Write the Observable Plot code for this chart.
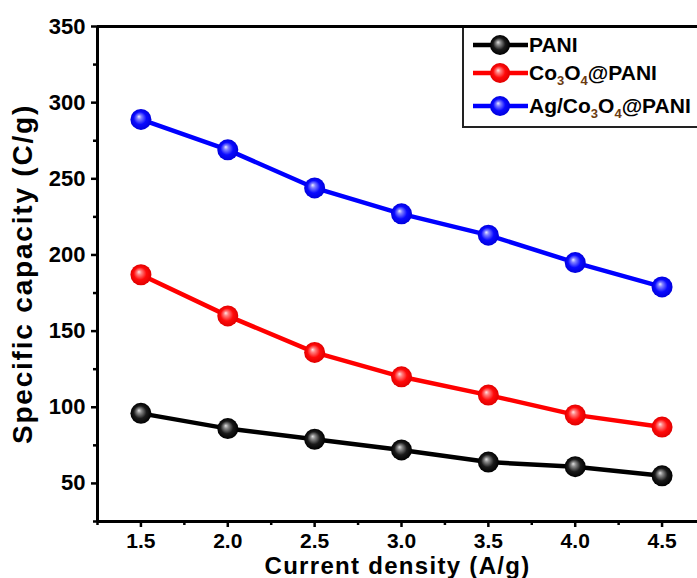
<!DOCTYPE html>
<html>
<head>
<meta charset="utf-8">
<script src="https://cdn.jsdelivr.net/npm/d3@7"></script>
<script src="https://cdn.jsdelivr.net/npm/@observablehq/plot@0.6"></script>
<style>
  body { margin: 0; background: #fff; }
  #chart { position: relative; width: 697px; height: 578px; overflow: hidden;
           font-family: "Liberation Sans", Arial, sans-serif; }
  #chart svg g[aria-label="y-axis tick label"],
  #chart svg g[aria-label="y-axis tick label"] text { font-size: 22px; font-weight: bold; }
  #chart svg g[aria-label="x-axis tick label"],
  #chart svg g[aria-label="x-axis tick label"] text { font-size: 21px; font-weight: bold; }
  #chart svg .axis-title,
  #chart svg .axis-title text { font-weight: bold; }
  #legend { position: absolute; left: 462px; top: 28px; width: 280px; height: 98px;
            border: 2px solid #222; border-top: none; background: #fff; }
  .row { position: absolute; left: 8px; height: 26px; display: flex; align-items: center;
         font-size: 21px; font-weight: bold; color: #000; white-space: nowrap; }
  .row svg { display: block; margin-right: 0; }
  .row sub { font-size: 13px; vertical-align: -5px; line-height: 0; color: #6b3a10; }
</style>
</head>
<body>
<div id="chart"></div>
<script>
// Measured specific capacity at each current density
const currentDensity = [1.5, 2.0, 2.5, 3.0, 3.5, 4.0, 4.5];
const pani = [96, 86, 79, 72, 64, 61, 55];
const co3o4Pani = [187, 160, 136, 120, 108, 95, 87];
const agCo3o4Pani = [289, 269, 244, 227, 213, 195, 179];

const seriesNames = ["PANI", "Co3O4@PANI", "Ag/Co3O4@PANI"];
const seriesLabels = ["PANI", "Co<sub>3</sub>O<sub>4</sub>@PANI", "Ag/Co<sub>3</sub>O<sub>4</sub>@PANI"];
const seriesColors = ["#000000", "#ff0000", "#0000ff"];
const seriesGradients = ["ballBlack", "ballRed", "ballBlue"];

const xTicks = [1.5, 2.0, 2.5, 3.0, 3.5, 4.0, 4.5];
const xMinorTicks = [1.25, 1.75, 2.25, 2.75, 3.25, 3.75, 4.25];
const yTicks = [50, 100, 150, 200, 250, 300, 350];
const yMinorTicks = [25, 75, 125, 175, 225, 275, 325];

const xTitle = "Current density (A/g)";
const yTitle = "Specific capacity (C/g)";

const seriesValues = [pani, co3o4Pani, agCo3o4Pani];
const rows = seriesNames.flatMap((name, i) =>
  currentDensity.map((x, j) => ({series: name, x, y: seriesValues[i][j]}))
);

// Shaded-ball gradients shared by the plot markers and the legend
const gradientDefs = `
  <radialGradient id="ballBlack" cx="50%" cy="50%" r="50%" fx="40%" fy="36%">
    <stop offset="0" stop-color="#e0e0e0"/><stop offset="0.22" stop-color="#8a8a8a"/>
    <stop offset="0.6" stop-color="#1a1a1a"/><stop offset="1" stop-color="#000"/>
  </radialGradient>
  <radialGradient id="ballRed" cx="50%" cy="50%" r="50%" fx="40%" fy="36%">
    <stop offset="0" stop-color="#ffe4e4"/><stop offset="0.22" stop-color="#ff8080"/>
    <stop offset="0.6" stop-color="#ff0a0a"/><stop offset="1" stop-color="#e00000"/>
  </radialGradient>
  <radialGradient id="ballBlue" cx="50%" cy="50%" r="50%" fx="40%" fy="36%">
    <stop offset="0" stop-color="#ececff"/><stop offset="0.22" stop-color="#8080ff"/>
    <stop offset="0.6" stop-color="#0a0aff"/><stop offset="1" stop-color="#0000dc"/>
  </radialGradient>`;

const marks = [
  // frame lines: left, bottom and top
  Plot.ruleX([1.25], {stroke: "#000", strokeWidth: 3}),
  Plot.ruleY([25], {stroke: "#000", strokeWidth: 3}),
  Plot.ruleY([350], {stroke: "#000", strokeWidth: 3}),
  Plot.axisY({ticks: yTicks, tickSize: 6, tickPadding: 6, strokeWidth: 2.5, label: null, fill: "#000"}),
  Plot.axisY({ticks: yMinorTicks, tickSize: 4, strokeWidth: 2.5, text: null, label: null}),
  Plot.axisX({ticks: xTicks, tickSize: 6, tickPadding: 6, strokeWidth: 2.5, label: null,
              tickFormat: d3.format(".1f"), fill: "#000"}),
  Plot.axisX({ticks: xMinorTicks, tickSize: 4, strokeWidth: 2.5, text: null, label: null}),
  Plot.text([yTitle], {text: d => d, frameAnchor: "left", dx: -74, rotate: -90, textAnchor: "middle",
                       fontSize: 28, fontWeight: "bold", fill: "#000", lineAnchor: "middle",
                       className: "axis-title y-title"}),
  Plot.text([xTitle], {text: d => d, frameAnchor: "bottom", dy: 45, textAnchor: "middle",
                       fontSize: 24, fontWeight: "bold", fill: "#000", lineAnchor: "middle",
                       className: "axis-title x-title"})
];

seriesNames.forEach((name, i) => {
  const data = rows.filter(d => d.series === name);
  marks.push(Plot.line(data, {x: "x", y: "y", stroke: seriesColors[i], strokeWidth: 4.5}));
  marks.push(Plot.dot(data, {x: "x", y: "y", r: 10.5, fill: `url(#${seriesGradients[i]})`, stroke: "none"}));
});

const svg = Plot.plot({
  width: 697,
  height: 578,
  marginLeft: 97,
  marginRight: 0,
  marginTop: 26,
  marginBottom: 57,
  x: {domain: [1.25, 4.704]},
  y: {domain: [25, 350]},
  style: {fontFamily: '"Liberation Sans", Arial, sans-serif', fontSize: "22px",
          background: "#fff", color: "#000", overflow: "visible"},
  marks
});
d3.select(svg).insert("defs", ":first-child").html(gradientDefs);
// the axis titles are spread a little wider
d3.select(svg).selectAll(".y-title text").style("letter-spacing", "1.8px");
d3.select(svg).selectAll(".x-title text").style("letter-spacing", "1.3px");

const chart = document.getElementById("chart");
chart.appendChild(svg);

// Legend box in the upper right corner of the plot area
const legend = document.createElement("div");
legend.id = "legend";
const rowTops = [4, 32, 65];
seriesNames.forEach((name, i) => {
  const row = document.createElement("div");
  row.className = "row";
  row.style.top = rowTops[i] + "px";
  row.innerHTML = `<svg width="57" height="24" viewBox="0 0 57 24">
      <line x1="1" y1="12" x2="56" y2="12" stroke="${seriesColors[i]}" stroke-width="4.5"/>
      <circle cx="28" cy="12" r="10" fill="url(#${seriesGradients[i]})"/>
    </svg><span>${seriesLabels[i]}</span>`;
  legend.appendChild(row);
});
chart.appendChild(legend);
</script>
</body>
</html>
